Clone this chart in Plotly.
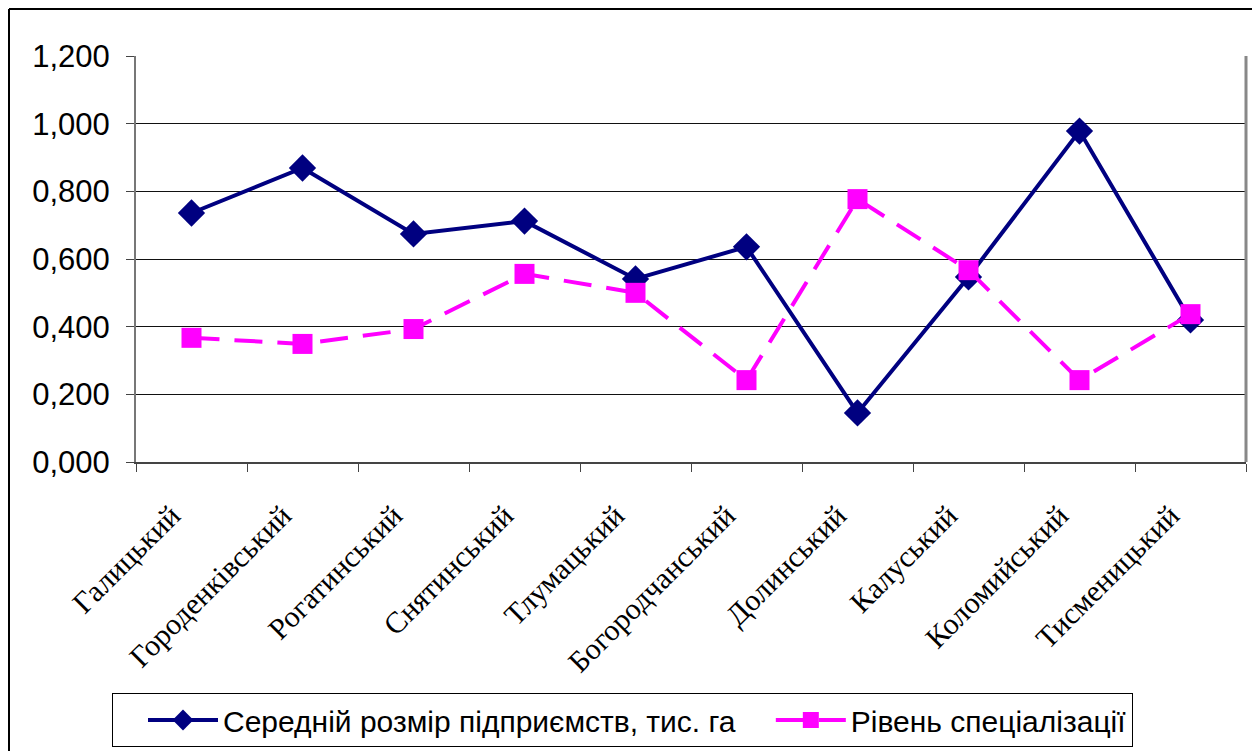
import plotly.graph_objects as go

categories = ["Галицький", "Городенківський", "Рогатинський", "Снятинський", "Тлумацький",
              "Богородчанський", "Долинський", "Калуський", "Коломийський", "Тисменицький"]
avg_size = [0.736, 0.869, 0.674, 0.712, 0.541, 0.636, 0.145, 0.547, 0.978, 0.420]
spec_level = [0.367, 0.349, 0.393, 0.556, 0.500, 0.242, 0.777, 0.567, 0.242, 0.437]

name1 = "Середній розмір підприємств, тис. га"
name2 = "Рівень спеціалізації"

fig = go.Figure()
fig.add_trace(go.Scatter(
    x=categories, y=avg_size, name=name1, mode="lines+markers",
    line=dict(color="#000080", width=4),
    marker=dict(symbol="diamond", size=21, color="#000080"),
))
fig.add_trace(go.Scatter(
    x=categories, y=spec_level, name=name2, mode="lines+markers",
    line=dict(color="#FF00FF", width=4, dash="28px,15px"),
    marker=dict(symbol="square", size=20, color="#FF00FF"),
))

# page body has an 8px margin; work in figure coordinates = reference - 8
OFF = 8
W, H = 1260 - OFF, 751 - OFF
L, R, T, B = 136 - OFF, 1246 - OFF, 56 - OFF, 462 - OFF
pw, ph = R - L, B - T

fig.update_layout(
    template="none",
    width=W, height=H,
    margin=dict(l=L, r=W - R, t=T, b=H - B, autoexpand=False),
    paper_bgcolor="white", plot_bgcolor="white",
    separators=",.",
    showlegend=True,
    legend=dict(
        orientation="h", xref="container", yref="container",
        x=(112 - OFF) / W, y=(H - (693 - OFF)) / H, xanchor="left", yanchor="top",
        bordercolor="black", borderwidth=1,
        font=dict(family="Liberation Sans, Arial", size=30, color="black"),
        indentation=30, itemwidth=70,
    ),
    xaxis=dict(
        type="category", tickangle=-45, tickson="boundaries",
        ticks="outside", ticklen=8, tickcolor="#444",
        showline=True, linecolor="#444", linewidth=2,
        showgrid=False, mirror=False, automargin=False,
        ticklabelstandoff=22, ticklabelshift=-20,
        tickfont=dict(family="Liberation Serif, Times New Roman", size=30, color="black"),
        range=[-0.5, 9.5],
    ),
    yaxis=dict(
        range=[0, 1.2], dtick=0.2, tickformat=".3f",
        ticks="outside", ticklen=8, tickcolor="#444",
        showline=True, linecolor="#777", linewidth=2,
        showgrid=True, gridcolor="#111", gridwidth=1,
        zeroline=False, automargin=False,
        ticklabelstandoff=10,
        tickfont=dict(family="Liberation Sans, Arial", size=31, color="black"),
    ),
    shapes=[
        dict(type="line", xref="paper", yref="paper", x0=1, x1=1, y0=0, y1=1,
             line=dict(color="#888", width=3)),
        dict(type="line", xref="paper", yref="paper",
             x0=(1 - L) / pw, x1=(1 - L) / pw, y0=(B - H - 5) / ph, y1=(B - 1) / ph,
             line=dict(color="black", width=2)),
        dict(type="line", xref="paper", yref="paper",
             x0=(1 - L) / pw, x1=(W + 5 - L) / pw, y0=(B - 1) / ph, y1=(B - 1) / ph,
             line=dict(color="black", width=2)),
    ],
)

fig.write_html("out.html")
